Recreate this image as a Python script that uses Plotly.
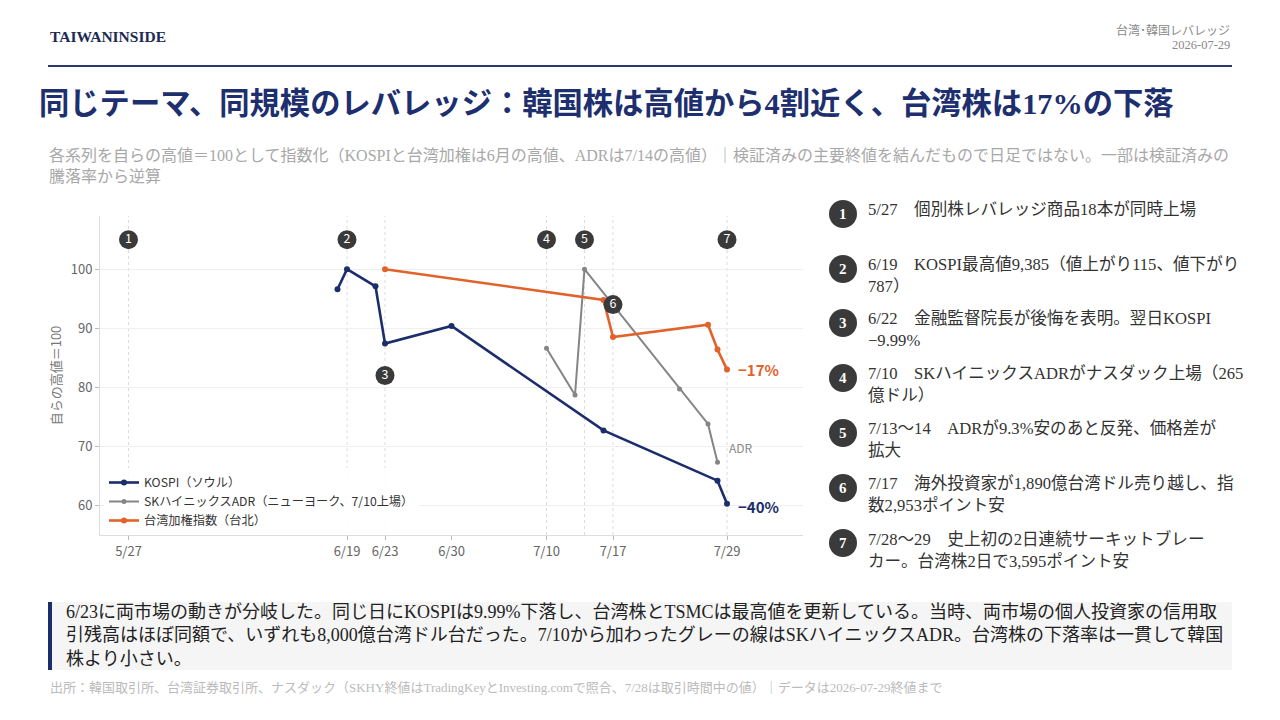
import plotly.graph_objects as go

# ---------------- data ----------------
kospi_dates = ["2026-06-18", "2026-06-19", "2026-06-22", "2026-06-23", "2026-06-30", "2026-07-16", "2026-07-28", "2026-07-29"]
kospi_vals = [96.6, 100.0, 97.1, 87.4, 90.4, 72.7, 64.2, 60.3]

adr_dates = ["2026-07-10", "2026-07-13", "2026-07-14", "2026-07-24", "2026-07-27", "2026-07-28"]
adr_vals = [86.6, 78.7, 100.0, 79.7, 73.8, 67.3]

taiex_dates = ["2026-06-23", "2026-07-16", "2026-07-17", "2026-07-27", "2026-07-28", "2026-07-29"]
taiex_vals = [100.0, 94.8, 88.5, 90.6, 86.4, 83.0]

series_names = ["KOSPI（ソウル）", "SKハイニックスADR（ニューヨーク、7/10上場）", "台湾加権指数（台北）"]

event_dates = ["2026-05-27", "2026-06-19", "2026-06-23", "2026-07-10", "2026-07-14", "2026-07-17", "2026-07-29"]
event_labels = ["1", "2", "3", "4", "5", "6", "7"]
event_y = [105, 105, 82, 105, 105, 94, 105]

tick_dates = ["2026-05-27", "2026-06-19", "2026-06-23", "2026-06-30", "2026-07-10", "2026-07-17", "2026-07-29"]
tick_text = ["5/27", "6/19", "6/23", "6/30", "7/10", "7/17", "7/29"]
y_ticks = [60, 70, 80, 90, 100]

event_notes = [
    "5/27　個別株レバレッジ商品18本が同時上場",
    "6/19　KOSPI最高値9,385（値上がり115、値下がり<br>787）",
    "6/22　金融監督院長が後悔を表明。翌日KOSPI<br>−9.99%",
    "7/10　SKハイニックスADRがナスダック上場（265<br>億ドル）",
    "7/13〜14　ADRが9.3%安のあと反発、価格差が<br>拡大",
    "7/17　海外投資家が1,890億台湾ドル売り越し、指<br>数2,953ポイント安",
    "7/28〜29　史上初の2日連続サーキットブレー<br>カー。台湾株2日で3,595ポイント安",
]

# ---------------- style ----------------
NAVY = "#1b2d6b"
ORANGE = "#e2622b"
GRAY = "#858585"
DARK = "#3a3a3a"
SANS = "Noto Sans CJK JP, Noto Sans, sans-serif"
SERIF = "Liberation Serif, Noto Sans CJK JP, serif"

W, H = 1280, 720
OX, OY = 8, 8  # page body margin compensation


def px(x):
    return (x - OX) / W


def py(y):
    return 1 - (y - OY) / H


fig = go.Figure()

fig.add_trace(go.Scatter(x=kospi_dates, y=kospi_vals, mode="lines+markers", name=series_names[0],
                         line=dict(color=NAVY, width=2.6), marker=dict(size=6, color=NAVY)))
fig.add_trace(go.Scatter(x=adr_dates, y=adr_vals, mode="lines+markers", name=series_names[1],
                         line=dict(color=GRAY, width=2), marker=dict(size=5, color=GRAY)))
fig.add_trace(go.Scatter(x=taiex_dates, y=taiex_vals, mode="lines+markers", name=series_names[2],
                         line=dict(color=ORANGE, width=2.6), marker=dict(size=6, color=ORANGE)))
fig.add_trace(go.Scatter(x=event_dates, y=event_y, mode="markers+text", text=event_labels,
                         textposition="middle center", showlegend=False, hoverinfo="skip",
                         marker=dict(size=19, color=DARK),
                         textfont=dict(color="white", size=12.5, family=SANS)))

shapes = []
for d in event_dates:
    shapes.append(dict(type="line", xref="x", yref="paper", x0=d, x1=d,
                       y0=py(535), y1=py(216), line=dict(color="#dcdcdc", width=1, dash="dot"),
                       layer="below"))

# header rule
shapes.append(dict(type="line", xref="paper", yref="paper", x0=px(48), x1=px(1232),
                   y0=py(66), y1=py(66), line=dict(color="#2a3a6b", width=2)))
# note box
shapes.append(dict(type="rect", xref="paper", yref="paper", x0=px(48), x1=px(1232),
                   y0=py(670), y1=py(602), fillcolor="#f5f5f5", line=dict(width=0), layer="below"))
shapes.append(dict(type="rect", xref="paper", yref="paper", x0=px(48), x1=px(52),
                   y0=py(670), y1=py(602), fillcolor=NAVY, line=dict(width=0)))

annotations = []
# end labels
annotations.append(dict(x="2026-07-29", y=taiex_vals[-1], xref="x", yref="y", text="<b>−17%</b>",
                        showarrow=False, xanchor="left", xshift=9,
                        font=dict(color=ORANGE, size=15, family=SANS)))
annotations.append(dict(x="2026-07-29", y=kospi_vals[-1], xref="x", yref="y", text="<b>−40%</b>",
                        showarrow=False, xanchor="left", xshift=9, yshift=-3,
                        font=dict(color=NAVY, size=15, family=SANS)))
annotations.append(dict(x="2026-07-29", y=69.8, xref="x", yref="y", text="ADR",
                        showarrow=False, xanchor="left", xshift=0,
                        font=dict(color="#8a8a8a", size=12, family=SANS)))

# header texts
annotations.append(dict(x=px(48), y=py(37), xref="paper", yref="paper", text="<b>TAIWANINSIDE</b>",
                        showarrow=False, xanchor="left", yanchor="middle",
                        font=dict(color="#1c2a55", size=15.5, family=SERIF)))
annotations.append(dict(x=px(1232), y=py(30), xref="paper", yref="paper", text="台湾･韓国レバレッジ",
                        showarrow=False, xanchor="right", yanchor="middle",
                        font=dict(color="#888888", size=12, family=SERIF)))
annotations.append(dict(x=px(1232), y=py(45), xref="paper", yref="paper", text="2026-07-29",
                        showarrow=False, xanchor="right", yanchor="middle",
                        font=dict(color="#888888", size=12.5, family=SERIF)))
annotations.append(dict(x=px(37), y=py(104), xref="paper", yref="paper",
                        text="<b>同じテーマ、同規模のレバレッジ：韓国株は高値から4割近く、台湾株は17%の下落</b>",
                        showarrow=False, xanchor="left", yanchor="middle",
                        font=dict(color="#1d2f6e", size=30.3, family=SERIF)))
annotations.append(dict(x=px(47), y=py(145), xref="paper", yref="paper",
                        text="各系列を自らの高値＝100として指数化（KOSPIと台湾加権は6月の高値、ADRは7/14の高値）｜検証済みの主要終値を結んだもので日足ではない。一部は検証済みの<br>騰落率から逆算",
                        showarrow=False, xanchor="left", yanchor="top", align="left",
                        font=dict(color="#a8a8a8", size=16, family=SERIF)))

# right list
list_y = [214, 269, 323, 378, 433, 488, 543]
for i, (lab, note) in enumerate(zip(event_labels, event_notes)):
    cy = list_y[i]
    shapes.append(dict(type="circle", xref="paper", yref="paper",
                       x0=px(843 - 14), x1=px(843 + 14), y0=py(cy + 14), y1=py(cy - 14),
                       fillcolor=DARK, line=dict(width=0)))
    annotations.append(dict(x=px(843), y=py(cy), xref="paper", yref="paper", text="<b>" + lab + "</b>",
                            showarrow=False, xanchor="center", yanchor="middle",
                            font=dict(color="white", size=15, family=SERIF)))
    annotations.append(dict(x=px(866), y=py(cy - 16), xref="paper", yref="paper", text=note,
                            showarrow=False, xanchor="left", yanchor="top", align="left",
                            font=dict(color="#333333", size=16.6, family=SERIF)))

# note text
annotations.append(dict(x=px(64), y=py(600), xref="paper", yref="paper",
                        text="6/23に両市場の動きが分岐した。同じ日にKOSPIは9.99%下落し、台湾株とTSMCは最高値を更新している。当時、両市場の個人投資家の信用取<br>引残高はほぼ同額で、いずれも8,000億台湾ドル台だった。7/10から加わったグレーの線はSKハイニックスADR。台湾株の下落率は一貫して韓国<br>株より小さい。",
                        showarrow=False, xanchor="left", yanchor="top", align="left",
                        font=dict(color="#222222", size=18, family=SERIF)))
annotations.append(dict(x=px(48), y=py(687), xref="paper", yref="paper",
                        text="出所：韓国取引所、台湾証券取引所、ナスダック（SKHY終値はTradingKeyとInvesting.comで照合、7/28は取引時間中の値）｜データは2026-07-29終値まで",
                        showarrow=False, xanchor="left", yanchor="middle",
                        font=dict(color="#bbbbbb", size=13, family=SERIF)))

fig.update_layout(
    width=W, height=H,
    margin=dict(l=0, r=0, t=0, b=0),
    paper_bgcolor="white", plot_bgcolor="white",
    showlegend=True,
    legend=dict(x=px(104), y=py(468), xanchor="left", yanchor="top",
                bgcolor="rgba(255,255,255,0.85)", font=dict(size=12.2, color="#333333", family=SANS),
                tracegroupgap=0, itemwidth=30),
    xaxis=dict(domain=[px(100), px(803)], type="date", range=["2026-05-24", "2026-08-06"],
               tickvals=tick_dates, ticktext=tick_text, showgrid=False, zeroline=False,
               showline=True, linecolor="#dddddd", ticks="outside", ticklen=4, tickcolor="#bbbbbb",
               tickfont=dict(size=13, color="#666666", family=SANS)),
    yaxis=dict(domain=[py(535), py(216)], range=[55, 109], tickvals=y_ticks,
               showgrid=True, gridcolor="#efefef", zeroline=False,
               showline=True, linecolor="#dddddd", ticks="outside", ticklen=4, tickcolor="#bbbbbb",
               tickfont=dict(size=13, color="#666666", family=SANS),
               title=dict(text="自らの高値＝100", font=dict(size=13, color="#777777", family=SANS), standoff=6)),
    shapes=shapes,
    annotations=annotations,
)

fig.write_html("out.html")
